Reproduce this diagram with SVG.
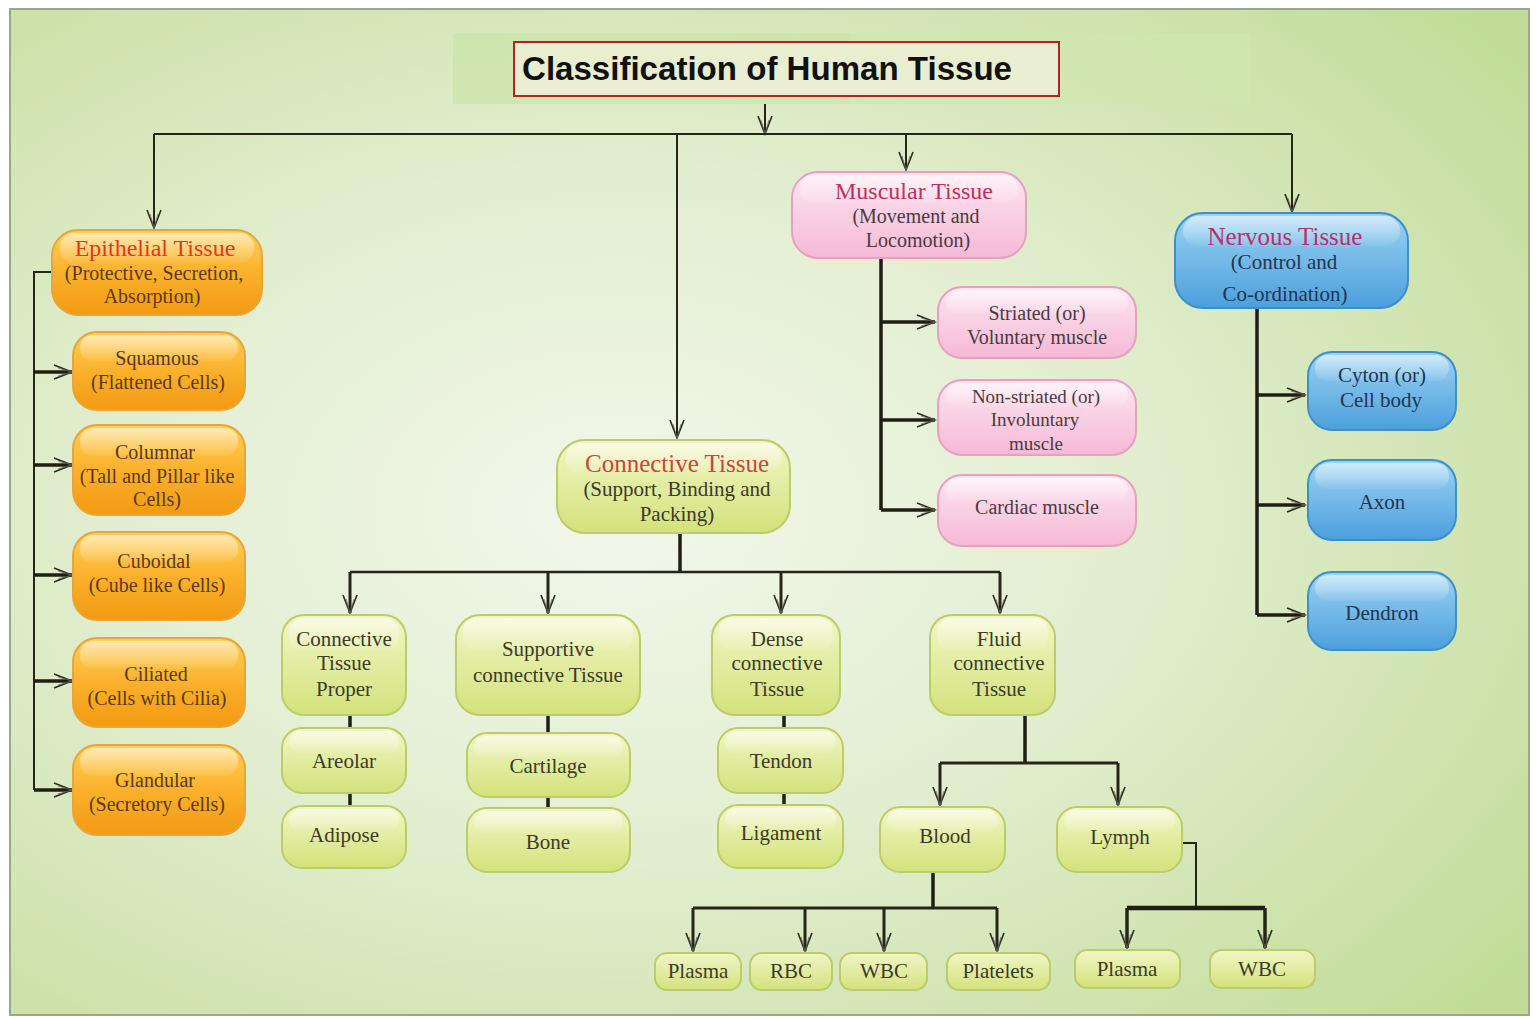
<svg xmlns="http://www.w3.org/2000/svg" width="1536" height="1019" viewBox="0 0 1536 1019">
<defs>
  <radialGradient id="bg" cx="0.4" cy="0.5" r="0.75">
    <stop offset="0" stop-color="#f3f7ec"/>
    <stop offset="0.45" stop-color="#e2eed0"/>
    <stop offset="1" stop-color="#c2dc98"/>
  </radialGradient>
  <linearGradient id="gOrange" x1="0" y1="0" x2="0" y2="1">
    <stop offset="0" stop-color="#ffd15a"/>
    <stop offset="0.5" stop-color="#fbb12c"/>
    <stop offset="1" stop-color="#f29a12"/>
  </linearGradient>
  <linearGradient id="gPink" x1="0" y1="0" x2="0" y2="1">
    <stop offset="0" stop-color="#fde6f1"/>
    <stop offset="1" stop-color="#f5b9d5"/>
  </linearGradient>
  <linearGradient id="gBlue" x1="0" y1="0" x2="0" y2="1">
    <stop offset="0" stop-color="#9dd3f3"/>
    <stop offset="1" stop-color="#4c9fdc"/>
  </linearGradient>
  <linearGradient id="gGreen" x1="0" y1="0" x2="0" y2="1">
    <stop offset="0" stop-color="#f1f6c6"/>
    <stop offset="1" stop-color="#d3e27a"/>
  </linearGradient>
  <linearGradient id="gloss" x1="0" y1="0" x2="0" y2="1">
    <stop offset="0" stop-color="#ffffff" stop-opacity="0.55"/>
    <stop offset="1" stop-color="#ffffff" stop-opacity="0.05"/>
  </linearGradient>
  <marker id="arr" markerUnits="userSpaceOnUse" markerWidth="22" markerHeight="16" refX="20" refY="8" orient="auto">
    <path d="M2,1 L20,8 L2,15" fill="none" stroke="#2b2b20" stroke-width="1.6"/>
    <path d="M6,4 L20,8 L6,12" fill="none" stroke="#6a6a5a" stroke-width="0.8"/>
  </marker>
</defs>
<style>
  .ln { fill: none; stroke: #262618; stroke-width: 2; }
  .lnb { fill: none; stroke: #1e1e12; stroke-width: 3.5; }
  .orange { fill: url(#gOrange); stroke: #e9a43a; stroke-width: 2; }
  .pink { fill: url(#gPink); stroke: #e7a0c2; stroke-width: 2; }
  .blue { fill: url(#gBlue); stroke: #3d8fca; stroke-width: 2; }
  .green { fill: url(#gGreen); stroke: #bccc6a; stroke-width: 2; }
  .gl { fill: url(#gloss); }
  text { font-family: "Liberation Serif", "DejaVu Serif", serif; text-anchor: middle; }
  .t { font-size: 21px; fill: #3c3a2a; }
  .tb { font-size: 21px; fill: #1f3550; }
  .tp { font-size: 20px; fill: #4a3a42; }
  .to { font-size: 20px; fill: #5a3a12; }
  .h-or { font-size: 24px; fill: #de3a1c; }
  .h-pk { font-size: 24px; fill: #c2305a; }
  .h-bl { font-size: 25px; fill: #b8306a; }
  .h-gr { font-size: 25px; fill: #c9463a; }
</style>

<rect x="0" y="0" width="1536" height="1019" fill="#ffffff"/>
<rect x="10" y="9" width="1519" height="1006" fill="url(#bg)" stroke="#9aa690" stroke-width="2"/>

<g id="title">
  <rect x="453" y="33" width="798" height="71" fill="#c9e2a2" opacity="0.55"/>
  <rect x="850" y="33" width="401" height="71" fill="#d6eab8" opacity="0.5"/>
  <rect x="514" y="42" width="545" height="54" fill="#e8eecf" stroke="#b02424" stroke-width="2"/>
  <text x="767" y="80" textLength="490" lengthAdjust="spacingAndGlyphs" style="font-family: 'Liberation Sans', Arial, sans-serif; font-weight: bold; font-size: 34px; fill: #111;">Classification of Human Tissue</text>
</g>

<g id="connectors">
  <line class="ln" x1="765" y1="104" x2="765" y2="134" marker-end="url(#arr)"/>
  <polyline class="ln" points="154,134 1292,134"/>
  <line class="ln" x1="154" y1="134" x2="154" y2="228" marker-end="url(#arr)"/>
  <line class="ln" x1="677" y1="134" x2="677" y2="438" marker-end="url(#arr)"/>
  <line class="ln" x1="906" y1="134" x2="906" y2="170" marker-end="url(#arr)"/>
  <line class="ln" x1="1292" y1="134" x2="1292" y2="212" marker-end="url(#arr)"/>

  <polyline class="ln" points="52,272 34,272 34,790"/>
  <line class="lnb" x1="34" y1="372" x2="72" y2="372" marker-end="url(#arr)"/>
  <line class="lnb" x1="34" y1="465" x2="72" y2="465" marker-end="url(#arr)"/>
  <line class="lnb" x1="34" y1="575" x2="72" y2="575" marker-end="url(#arr)"/>
  <line class="lnb" x1="34" y1="681" x2="72" y2="681" marker-end="url(#arr)"/>
  <line class="lnb" x1="34" y1="790" x2="72" y2="790" marker-end="url(#arr)"/>

  <polyline class="lnb" points="881,258 881,510"/>
  <line class="lnb" x1="881" y1="322" x2="935" y2="322" marker-end="url(#arr)"/>
  <line class="lnb" x1="881" y1="420" x2="935" y2="420" marker-end="url(#arr)"/>
  <line class="lnb" x1="881" y1="510" x2="935" y2="510" marker-end="url(#arr)"/>

  <polyline class="lnb" points="1257,308 1257,615"/>
  <line class="lnb" x1="1257" y1="395" x2="1305" y2="395" marker-end="url(#arr)"/>
  <line class="lnb" x1="1257" y1="505" x2="1305" y2="505" marker-end="url(#arr)"/>
  <line class="lnb" x1="1257" y1="615" x2="1305" y2="615" marker-end="url(#arr)"/>

  <line class="lnb" x1="680" y1="533" x2="680" y2="572"/>
  <polyline class="ln" points="350,572 1000,572" style="stroke-width:2.5"/>
  <line class="ln" x1="350" y1="572" x2="350" y2="613" style="stroke-width:3" marker-end="url(#arr)"/>
  <line class="ln" x1="548" y1="572" x2="548" y2="613" style="stroke-width:3" marker-end="url(#arr)"/>
  <line class="ln" x1="781" y1="572" x2="781" y2="613" style="stroke-width:3" marker-end="url(#arr)"/>
  <line class="ln" x1="1000" y1="572" x2="1000" y2="613" style="stroke-width:3" marker-end="url(#arr)"/>

  <line class="lnb" x1="350" y1="715" x2="350" y2="728"/>
  <line class="lnb" x1="350" y1="793" x2="350" y2="806"/>
  <line class="lnb" x1="548" y1="715" x2="548" y2="733"/>
  <line class="lnb" x1="548" y1="797" x2="548" y2="808"/>
  <line class="lnb" x1="784" y1="715" x2="784" y2="728"/>
  <line class="lnb" x1="784" y1="793" x2="784" y2="805"/>

  <line class="lnb" x1="1025" y1="715" x2="1025" y2="763"/>
  <polyline class="ln" points="940,763 1118,763" style="stroke-width:3"/>
  <line class="ln" x1="940" y1="763" x2="940" y2="805" style="stroke-width:3" marker-end="url(#arr)"/>
  <line class="ln" x1="1118" y1="763" x2="1118" y2="805" style="stroke-width:3" marker-end="url(#arr)"/>

  <line class="lnb" x1="933" y1="872" x2="933" y2="908"/>
  <polyline class="ln" points="693,908 997,908" style="stroke-width:3"/>
  <line class="ln" x1="693" y1="908" x2="693" y2="951" style="stroke-width:3" marker-end="url(#arr)"/>
  <line class="ln" x1="805" y1="908" x2="805" y2="951" style="stroke-width:3" marker-end="url(#arr)"/>
  <line class="ln" x1="884" y1="908" x2="884" y2="951" style="stroke-width:3" marker-end="url(#arr)"/>
  <line class="ln" x1="997" y1="908" x2="997" y2="951" style="stroke-width:3" marker-end="url(#arr)"/>

  <polyline class="ln" points="1182,843 1196,843 1196,908"/>
  <polyline class="lnb" points="1127,908 1265,908" style="stroke-width:4.5"/>
  <line class="ln" x1="1127" y1="908" x2="1127" y2="948" style="stroke-width:3.5" marker-end="url(#arr)"/>
  <line class="ln" x1="1265" y1="908" x2="1265" y2="948" style="stroke-width:3.5" marker-end="url(#arr)"/>
</g>

<g id="epithelial">
  <rect class="orange" x="52" y="230" width="210" height="85" rx="26"/>
  <rect class="gl" x="60" y="233" width="194" height="30" rx="14"/>
  <text class="h-or" x="155" y="256">Epithelial Tissue</text>
  <text class="to" x="154" y="280">(Protective, Secretion,</text>
  <text class="to" x="152" y="303">Absorption)</text>
</g>
<g id="squamous">
  <rect class="orange" x="73" y="332" width="172" height="78" rx="24"/>
  <rect class="gl" x="80" y="335" width="158" height="26" rx="13"/>
  <text class="to" x="157" y="365">Squamous</text>
  <text class="to" x="158" y="389">(Flattened Cells)</text>
</g>
<g id="columnar">
  <rect class="orange" x="73" y="425" width="172" height="90" rx="24"/>
  <rect class="gl" x="80" y="428" width="158" height="28" rx="13"/>
  <text class="to" x="155" y="459">Columnar</text>
  <text class="to" x="157" y="483">(Tall and Pillar like</text>
  <text class="to" x="157" y="506">Cells)</text>
</g>
<g id="cuboidal">
  <rect class="orange" x="73" y="532" width="172" height="88" rx="24"/>
  <rect class="gl" x="80" y="535" width="158" height="28" rx="13"/>
  <text class="to" x="154" y="568">Cuboidal</text>
  <text class="to" x="157" y="592">(Cube like Cells)</text>
</g>
<g id="ciliated">
  <rect class="orange" x="73" y="638" width="172" height="89" rx="24"/>
  <rect class="gl" x="80" y="641" width="158" height="28" rx="13"/>
  <text class="to" x="156" y="681">Ciliated</text>
  <text class="to" x="157" y="705">(Cells with Cilia)</text>
</g>
<g id="glandular">
  <rect class="orange" x="73" y="745" width="172" height="90" rx="24"/>
  <rect class="gl" x="80" y="748" width="158" height="28" rx="13"/>
  <text class="to" x="155" y="787">Glandular</text>
  <text class="to" x="157" y="811">(Secretory Cells)</text>
</g>

<g id="muscular">
  <rect class="pink" x="792" y="172" width="234" height="86" rx="26"/>
  <rect class="gl" x="800" y="175" width="218" height="28" rx="14"/>
  <text class="h-pk" x="914" y="199">Muscular Tissue</text>
  <text class="tp" x="916" y="223">(Movement and</text>
  <text class="tp" x="918" y="247">Locomotion)</text>
</g>
<g id="striated">
  <rect class="pink" x="938" y="287" width="198" height="71" rx="24"/>
  <rect class="gl" x="946" y="290" width="182" height="24" rx="12"/>
  <text class="tp" x="1037" y="320">Striated (or)</text>
  <text class="tp" x="1037" y="344">Voluntary muscle</text>
</g>
<g id="nonstriated">
  <rect class="pink" x="938" y="380" width="198" height="75" rx="24"/>
  <rect class="gl" x="946" y="383" width="182" height="24" rx="12"/>
  <text class="tp" x="1036" y="403" style="font-size:19px">Non-striated (or)</text>
  <text class="tp" x="1035" y="426" style="font-size:19px">Involuntary</text>
  <text class="tp" x="1036" y="450" style="font-size:19px">muscle</text>
</g>
<g id="cardiac">
  <rect class="pink" x="938" y="475" width="198" height="71" rx="24"/>
  <rect class="gl" x="946" y="478" width="182" height="24" rx="12"/>
  <text class="tp" x="1037" y="514">Cardiac muscle</text>
</g>

<g id="nervous">
  <rect class="blue" x="1175" y="213" width="233" height="95" rx="28"/>
  <rect class="gl" x="1183" y="216" width="217" height="30" rx="15"/>
  <text class="h-bl" x="1285" y="245">Nervous Tissue</text>
  <text class="tb" x="1284" y="269">(Control and</text>
  <text class="tb" x="1285" y="301">Co-ordination)</text>
</g>
<g id="cyton">
  <rect class="blue" x="1308" y="352" width="148" height="78" rx="24"/>
  <rect class="gl" x="1315" y="355" width="134" height="26" rx="13"/>
  <text class="tb" x="1382" y="382">Cyton (or)</text>
  <text class="tb" x="1381" y="407">Cell body</text>
</g>
<g id="axon">
  <rect class="blue" x="1308" y="460" width="148" height="80" rx="24"/>
  <rect class="gl" x="1315" y="463" width="134" height="26" rx="13"/>
  <text class="tb" x="1382" y="509">Axon</text>
</g>
<g id="dendron">
  <rect class="blue" x="1308" y="572" width="148" height="78" rx="24"/>
  <rect class="gl" x="1315" y="575" width="134" height="26" rx="13"/>
  <text class="tb" x="1382" y="620">Dendron</text>
</g>

<g id="connective">
  <rect class="green" x="557" y="440" width="233" height="93" rx="28"/>
  <rect class="gl" x="565" y="443" width="217" height="30" rx="15"/>
  <text class="h-gr" x="677" y="472">Connective Tissue</text>
  <text class="t" x="677" y="496">(Support, Binding and</text>
  <text class="t" x="677" y="521">Packing)</text>
</g>
<g id="ctproper">
  <rect class="green" x="282" y="615" width="124" height="100" rx="22"/>
  <rect class="gl" x="289" y="618" width="110" height="32" rx="13"/>
  <text class="t" x="344" y="646">Connective</text>
  <text class="t" x="344" y="670">Tissue</text>
  <text class="t" x="344" y="696">Proper</text>
</g>
<g id="supportive">
  <rect class="green" x="456" y="615" width="184" height="100" rx="24"/>
  <rect class="gl" x="463" y="618" width="170" height="32" rx="13"/>
  <text class="t" x="548" y="656">Supportive</text>
  <text class="t" x="548" y="682">connective Tissue</text>
</g>
<g id="dense">
  <rect class="green" x="712" y="615" width="128" height="100" rx="22"/>
  <rect class="gl" x="719" y="618" width="114" height="32" rx="13"/>
  <text class="t" x="777" y="646">Dense</text>
  <text class="t" x="777" y="670">connective</text>
  <text class="t" x="777" y="696">Tissue</text>
</g>
<g id="fluid">
  <rect class="green" x="930" y="615" width="125" height="100" rx="22"/>
  <rect class="gl" x="937" y="618" width="111" height="32" rx="13"/>
  <text class="t" x="999" y="646">Fluid</text>
  <text class="t" x="999" y="670">connective</text>
  <text class="t" x="999" y="696">Tissue</text>
</g>
<g id="areolar">
  <rect class="green" x="282" y="728" width="124" height="65" rx="20"/>
  <rect class="gl" x="289" y="731" width="110" height="22" rx="11"/>
  <text class="t" x="344" y="768">Areolar</text>
</g>
<g id="adipose">
  <rect class="green" x="282" y="806" width="124" height="62" rx="20"/>
  <rect class="gl" x="289" y="809" width="110" height="22" rx="11"/>
  <text class="t" x="344" y="842">Adipose</text>
</g>
<g id="cartilage">
  <rect class="green" x="467" y="733" width="163" height="64" rx="20"/>
  <rect class="gl" x="474" y="736" width="149" height="22" rx="11"/>
  <text class="t" x="548" y="773">Cartilage</text>
</g>
<g id="bone">
  <rect class="green" x="467" y="808" width="163" height="64" rx="20"/>
  <rect class="gl" x="474" y="811" width="149" height="22" rx="11"/>
  <text class="t" x="548" y="849">Bone</text>
</g>
<g id="tendon">
  <rect class="green" x="718" y="728" width="125" height="65" rx="20"/>
  <rect class="gl" x="725" y="731" width="111" height="22" rx="11"/>
  <text class="t" x="781" y="768">Tendon</text>
</g>
<g id="ligament">
  <rect class="green" x="718" y="805" width="125" height="63" rx="20"/>
  <rect class="gl" x="725" y="808" width="111" height="22" rx="11"/>
  <text class="t" x="781" y="840">Ligament</text>
</g>
<g id="blood">
  <rect class="green" x="880" y="807" width="125" height="65" rx="20"/>
  <rect class="gl" x="887" y="810" width="111" height="22" rx="11"/>
  <text class="t" x="945" y="843">Blood</text>
</g>
<g id="lymph">
  <rect class="green" x="1057" y="807" width="125" height="65" rx="20"/>
  <rect class="gl" x="1064" y="810" width="111" height="22" rx="11"/>
  <text class="t" x="1120" y="844">Lymph</text>
</g>
<g id="plasma1">
  <rect class="green" x="655" y="953" width="86" height="37" rx="12"/>
  <text class="t" x="698" y="978">Plasma</text>
</g>
<g id="rbc">
  <rect class="green" x="750" y="953" width="82" height="37" rx="12"/>
  <text class="t" x="791" y="978">RBC</text>
</g>
<g id="wbc1">
  <rect class="green" x="840" y="953" width="87" height="37" rx="12"/>
  <text class="t" x="884" y="978">WBC</text>
</g>
<g id="platelets">
  <rect class="green" x="947" y="953" width="103" height="37" rx="12"/>
  <text class="t" x="998" y="978">Platelets</text>
</g>
<g id="plasma2">
  <rect class="green" x="1075" y="950" width="105" height="38" rx="12"/>
  <text class="t" x="1127" y="976">Plasma</text>
</g>
<g id="wbc2">
  <rect class="green" x="1210" y="950" width="105" height="38" rx="12"/>
  <text class="t" x="1262" y="976">WBC</text>
</g>
</svg>
